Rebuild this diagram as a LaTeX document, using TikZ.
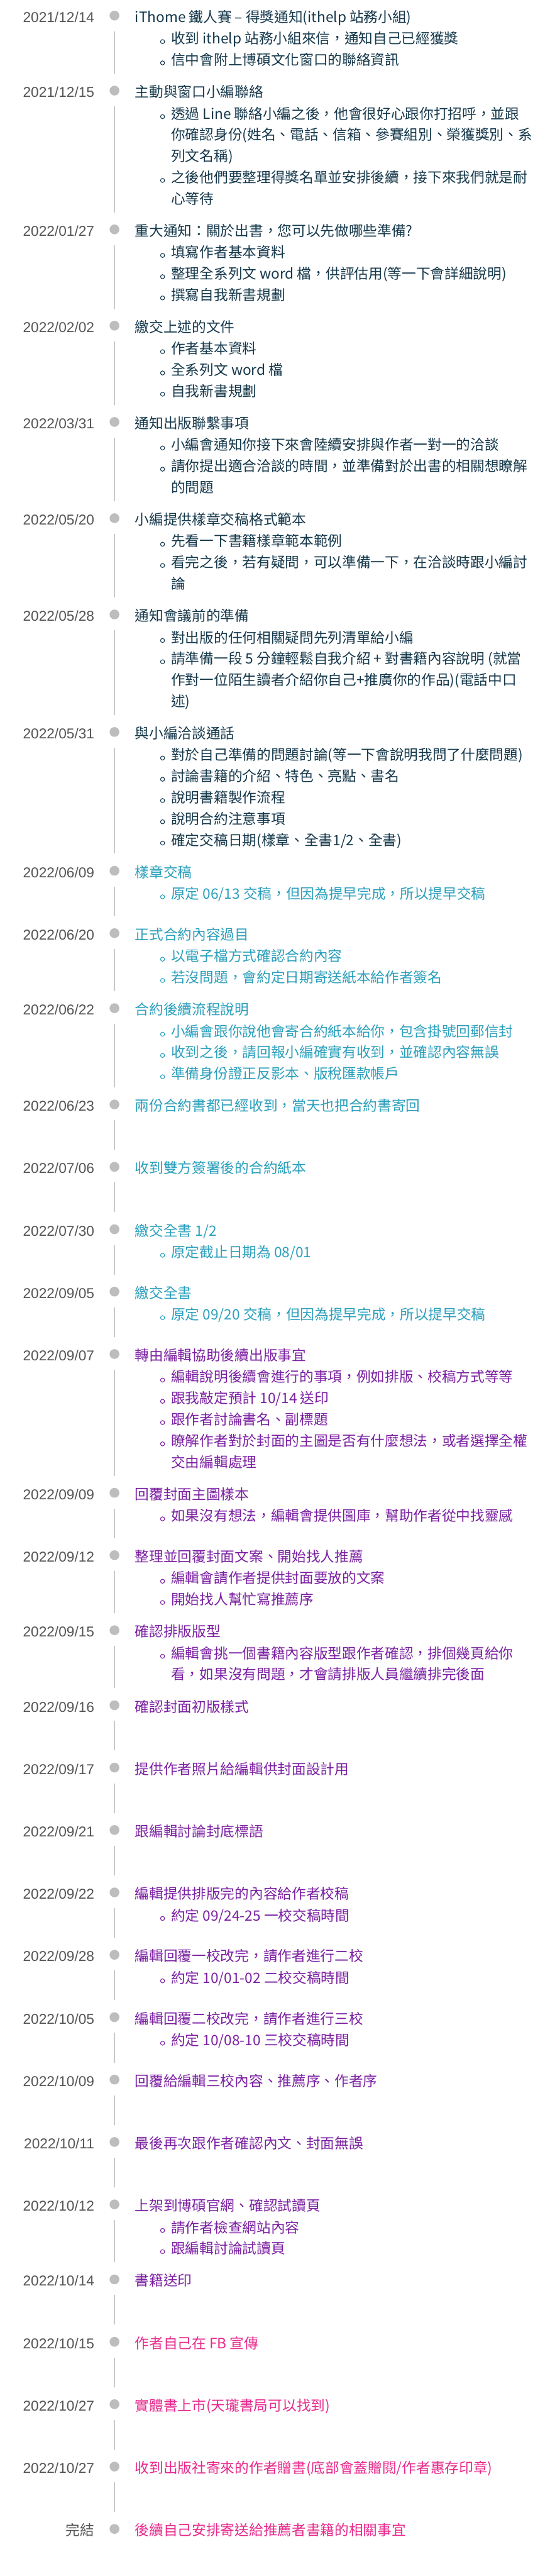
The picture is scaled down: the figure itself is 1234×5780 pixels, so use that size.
\documentclass[tikz,border=0pt]{standalone}
\usepackage{fontspec}
\setmainfont{Noto Sans CJK TC}
\newfontfamily\numfont{Liberation Sans}
\usepackage{xcolor}
\usepackage{tikz}

\definecolor{dategray}{HTML}{555555}
\definecolor{dotgray}{HTML}{BDBDBD}
\definecolor{railgray}{HTML}{C8C8C8}
\definecolor{navyink}{HTML}{15384B}
\definecolor{tealink}{HTML}{2A9FBC}
\definecolor{purpleink}{HTML}{7B1FA2}
\definecolor{pinkink}{HTML}{E8288C}

\begin{document}
\begin{tikzpicture}[
  x=0.75pt, y=-0.75pt,
  datelabel/.style={
    anchor=base east,
    inner sep=0pt,
    text=dategray,
    font=\numfont\fontsize{24}{30}\selectfont
  },
  dotmark/.style={
    circle,
    fill=dotgray,
    inner sep=0pt,
    minimum size=16.5pt
  },
  headline/.style={
    anchor=base west,
    inner sep=0pt,
    font=\fontsize{24}{30}\selectfont
  },
  bulletmark/.style={
    circle,
    draw,
    line width=1.1pt,
    inner sep=0pt,
    outer sep=0pt,
    minimum size=6.8pt,
    xshift=-10.9pt
  },
  item/.style={
    anchor=base west,
    inner sep=0pt,
    font=\fontsize{24}{30}\selectfont,
    text height=0.84em,
    text depth=0.08em,
    label={[bulletmark]left:{}}
  },
  itemcont/.style={
    anchor=base west,
    inner sep=0pt,
    font=\fontsize{24}{30}\selectfont
  },
  rail/.style={
    draw=railgray,
    line width=2.2pt
  }
]

\useasboundingbox[fill=white] (0,0) rectangle (1234,5780);

\begin{scope}[color=navyink]
% 2021/12/14
\node[datelabel] (d1) at (212,50) {2021/12/14};
\node[dotmark] (p1) at (257,35) {};
\node[headline] (t1) at (303,50)
  {iThome 鐵人賽 – 得獎通知(ithelp 站務小組)};
\node[item] (b1a) at (384,98.5)
  {收到 ithelp 站務小組來信，通知自己已經獲獎};
\node[item] (b1b) at (384,146.2)
  {信中會附上博碩文化窗口的聯絡資訊};

% 2021/12/15
\node[datelabel] (d2) at (212,218.3) {2021/12/15};
\node[dotmark] (p2) at (257,203.3) {};
\node[headline] (t2) at (303,218.3)
  {主動與窗口小編聯絡};
\node[item] (b2a) at (384,266.8)
  {透過 Line 聯絡小編之後，他會很好心跟你打招呼，並跟};
\node[itemcont] (b2b) at (384,314.5)
  {你確認身份(姓名、電話、信箱、參賽組別、榮獲獎別、系};
\node[itemcont] (b2c) at (384,362.2)
  {列文名稱)};
\node[item] (b2d) at (384,409.9)
  {之後他們要整理得獎名單並安排後續，接下來我們就是耐};
\node[itemcont] (b2e) at (384,457.6)
  {心等待};

% 2022/01/27
\node[datelabel] (d3) at (212,529.7) {2022/01/27};
\node[dotmark] (p3) at (257,514.7) {};
\node[headline] (t3) at (303,529.7)
  {重大通知：關於出書，您可以先做哪些準備?};
\node[item] (b3a) at (384,578.2)
  {填寫作者基本資料};
\node[item] (b3b) at (384,625.9)
  {整理全系列文 word 檔，供評估用(等一下會詳細說明)};
\node[item] (b3c) at (384,673.6)
  {撰寫自我新書規劃};

% 2022/02/02
\node[datelabel] (d4) at (212,745.7) {2022/02/02};
\node[dotmark] (p4) at (257,730.7) {};
\node[headline] (t4) at (303,745.7)
  {繳交上述的文件};
\node[item] (b4a) at (384,794.2)
  {作者基本資料};
\node[item] (b4b) at (384,841.9)
  {全系列文 word 檔};
\node[item] (b4c) at (384,889.6)
  {自我新書規劃};

% 2022/03/31
\node[datelabel] (d5) at (212,961.7) {2022/03/31};
\node[dotmark] (p5) at (257,946.7) {};
\node[headline] (t5) at (303,961.7)
  {通知出版聯繫事項};
\node[item] (b5a) at (384,1010.2)
  {小編會通知你接下來會陸續安排與作者一對一的洽談};
\node[item] (b5b) at (384,1057.9)
  {請你提出適合洽談的時間，並準備對於出書的相關想瞭解};
\node[itemcont] (b5c) at (384,1105.6)
  {的問題};

% 2022/05/20
\node[datelabel] (d6) at (212,1177.7) {2022/05/20};
\node[dotmark] (p6) at (257,1162.7) {};
\node[headline] (t6) at (303,1177.7)
  {小編提供樣章交稿格式範本};
\node[item] (b6a) at (384,1226.2)
  {先看一下書籍樣章範本範例};
\node[item] (b6b) at (384,1273.9)
  {看完之後，若有疑問，可以準備一下，在洽談時跟小編討};
\node[itemcont] (b6c) at (384,1321.6)
  {論};

% 2022/05/28
\node[datelabel] (d7) at (212,1393.7) {2022/05/28};
\node[dotmark] (p7) at (257,1378.7) {};
\node[headline] (t7) at (303,1393.7)
  {通知會議前的準備};
\node[item] (b7a) at (384,1442.2)
  {對出版的任何相關疑問先列清單給小編};
\node[item] (b7b) at (384,1489.9)
  {請準備一段 5 分鐘輕鬆自我介紹 + 對書籍內容說明 (就當};
\node[itemcont] (b7c) at (384,1537.6)
  {作對一位陌生讀者介紹你自己+推廣你的作品)(電話中口};
\node[itemcont] (b7d) at (384,1585.3)
  {述)};

% 2022/05/31
\node[datelabel] (d8) at (212,1657.4) {2022/05/31};
\node[dotmark] (p8) at (257,1642.4) {};
\node[headline] (t8) at (303,1657.4)
  {與小編洽談通話};
\node[item] (b8a) at (384,1705.9)
  {對於自己準備的問題討論(等一下會說明我問了什麼問題)};
\node[item] (b8b) at (384,1753.6)
  {討論書籍的介紹、特色、亮點、書名};
\node[item] (b8c) at (384,1801.3)
  {說明書籍製作流程};
\node[item] (b8d) at (384,1849.0)
  {說明合約注意事項};
\node[item] (b8e) at (384,1896.7)
  {確定交稿日期(樣章、全書1/2、全書)};
\end{scope}

\begin{scope}[color=tealink]
% 2022/06/09
\node[datelabel] (d9) at (212,1968.8) {2022/06/09};
\node[dotmark] (p9) at (257,1953.8) {};
\node[headline] (t9) at (303,1968.8)
  {樣章交稿};
\node[item] (b9a) at (384,2017.3)
  {原定 06/13 交稿，但因為提早完成，所以提早交稿};

% 2022/06/20
\node[datelabel] (d10) at (212,2108.8) {2022/06/20};
\node[dotmark] (p10) at (257,2093.8) {};
\node[headline] (t10) at (303,2108.8)
  {正式合約內容過目};
\node[item] (b10a) at (384,2157.3)
  {以電子檔方式確認合約內容};
\node[item] (b10b) at (384,2205.0)
  {若沒問題，會約定日期寄送紙本給作者簽名};

% 2022/06/22
\node[datelabel] (d11) at (212,2277.1) {2022/06/22};
\node[dotmark] (p11) at (257,2262.1) {};
\node[headline] (t11) at (303,2277.1)
  {合約後續流程說明};
\node[item] (b11a) at (384,2325.6)
  {小編會跟你說他會寄合約紙本給你，包含掛號回郵信封};
\node[item] (b11b) at (384,2373.3)
  {收到之後，請回報小編確實有收到，並確認內容無誤};
\node[item] (b11c) at (384,2421.0)
  {準備身份證正反影本、版稅匯款帳戶};

% 2022/06/23
\node[datelabel] (d12) at (212,2493.1) {2022/06/23};
\node[dotmark] (p12) at (257,2478.1) {};
\node[headline] (t12) at (303,2493.1)
  {兩份合約書都已經收到，當天也把合約書寄回};

% 2022/07/06
\node[datelabel] (d13) at (212,2633.1) {2022/07/06};
\node[dotmark] (p13) at (257,2618.1) {};
\node[headline] (t13) at (303,2633.1)
  {收到雙方簽署後的合約紙本};

% 2022/07/30
\node[datelabel] (d14) at (212,2773.1) {2022/07/30};
\node[dotmark] (p14) at (257,2758.1) {};
\node[headline] (t14) at (303,2773.1)
  {繳交全書 1/2};
\node[item] (b14a) at (384,2821.6)
  {原定截止日期為 08/01};

% 2022/09/05
\node[datelabel] (d15) at (212,2913.1) {2022/09/05};
\node[dotmark] (p15) at (257,2898.1) {};
\node[headline] (t15) at (303,2913.1)
  {繳交全書};
\node[item] (b15a) at (384,2961.6)
  {原定 09/20 交稿，但因為提早完成，所以提早交稿};
\end{scope}

\begin{scope}[color=purpleink]
% 2022/09/07
\node[datelabel] (d16) at (212,3053.1) {2022/09/07};
\node[dotmark] (p16) at (257,3038.1) {};
\node[headline] (t16) at (303,3053.1)
  {轉由編輯協助後續出版事宜};
\node[item] (b16a) at (384,3101.6)
  {編輯說明後續會進行的事項，例如排版、校稿方式等等};
\node[item] (b16b) at (384,3149.3)
  {跟我敲定預計 10/14 送印};
\node[item] (b16c) at (384,3197.0)
  {跟作者討論書名、副標題};
\node[item] (b16d) at (384,3244.7)
  {瞭解作者對於封面的主圖是否有什麼想法，或者選擇全權};
\node[itemcont] (b16e) at (384,3292.4)
  {交由編輯處理};

% 2022/09/09
\node[datelabel] (d17) at (212,3364.5) {2022/09/09};
\node[dotmark] (p17) at (257,3349.5) {};
\node[headline] (t17) at (303,3364.5)
  {回覆封面主圖樣本};
\node[item] (b17a) at (384,3413.0)
  {如果沒有想法，編輯會提供圖庫，幫助作者從中找靈感};

% 2022/09/12
\node[datelabel] (d18) at (212,3504.5) {2022/09/12};
\node[dotmark] (p18) at (257,3489.5) {};
\node[headline] (t18) at (303,3504.5)
  {整理並回覆封面文案、開始找人推薦};
\node[item] (b18a) at (384,3553.0)
  {編輯會請作者提供封面要放的文案};
\node[item] (b18b) at (384,3600.7)
  {開始找人幫忙寫推薦序};

% 2022/09/15
\node[datelabel] (d19) at (212,3672.8) {2022/09/15};
\node[dotmark] (p19) at (257,3657.8) {};
\node[headline] (t19) at (303,3672.8)
  {確認排版版型};
\node[item] (b19a) at (384,3721.3)
  {編輯會挑一個書籍內容版型跟作者確認，排個幾頁給你};
\node[itemcont] (b19b) at (384,3769.0)
  {看，如果沒有問題，才會請排版人員繼續排完後面};

% 2022/09/16
\node[datelabel] (d20) at (212,3841.1) {2022/09/16};
\node[dotmark] (p20) at (257,3826.1) {};
\node[headline] (t20) at (303,3841.1)
  {確認封面初版樣式};

% 2022/09/17
\node[datelabel] (d21) at (212,3981.1) {2022/09/17};
\node[dotmark] (p21) at (257,3966.1) {};
\node[headline] (t21) at (303,3981.1)
  {提供作者照片給編輯供封面設計用};

% 2022/09/21
\node[datelabel] (d22) at (212,4121.1) {2022/09/21};
\node[dotmark] (p22) at (257,4106.1) {};
\node[headline] (t22) at (303,4121.1)
  {跟編輯討論封底標語};

% 2022/09/22
\node[datelabel] (d23) at (212,4261.1) {2022/09/22};
\node[dotmark] (p23) at (257,4246.1) {};
\node[headline] (t23) at (303,4261.1)
  {編輯提供排版完的內容給作者校稿};
\node[item] (b23a) at (384,4309.6)
  {約定 09/24-25 一校交稿時間};

% 2022/09/28
\node[datelabel] (d24) at (212,4401.1) {2022/09/28};
\node[dotmark] (p24) at (257,4386.1) {};
\node[headline] (t24) at (303,4401.1)
  {編輯回覆一校改完，請作者進行二校};
\node[item] (b24a) at (384,4449.6)
  {約定 10/01-02 二校交稿時間};

% 2022/10/05
\node[datelabel] (d25) at (212,4541.1) {2022/10/05};
\node[dotmark] (p25) at (257,4526.1) {};
\node[headline] (t25) at (303,4541.1)
  {編輯回覆二校改完，請作者進行三校};
\node[item] (b25a) at (384,4589.6)
  {約定 10/08-10 三校交稿時間};

% 2022/10/09
\node[datelabel] (d26) at (212,4681.1) {2022/10/09};
\node[dotmark] (p26) at (257,4666.1) {};
\node[headline] (t26) at (303,4681.1)
  {回覆給編輯三校內容、推薦序、作者序};

% 2022/10/11
\node[datelabel] (d27) at (212,4821.1) {2022/10/11};
\node[dotmark] (p27) at (257,4806.1) {};
\node[headline] (t27) at (303,4821.1)
  {最後再次跟作者確認內文、封面無誤};

% 2022/10/12
\node[datelabel] (d28) at (212,4961.1) {2022/10/12};
\node[dotmark] (p28) at (257,4946.1) {};
\node[headline] (t28) at (303,4961.1)
  {上架到博碩官網、確認試讀頁};
\node[item] (b28a) at (384,5009.6)
  {請作者檢查網站內容};
\node[item] (b28b) at (384,5057.3)
  {跟編輯討論試讀頁};

% 2022/10/14
\node[datelabel] (d29) at (212,5129.4) {2022/10/14};
\node[dotmark] (p29) at (257,5114.4) {};
\node[headline] (t29) at (303,5129.4)
  {書籍送印};
\end{scope}

\begin{scope}[color=pinkink]
% 2022/10/15
\node[datelabel] (d30) at (212,5269.4) {2022/10/15};
\node[dotmark] (p30) at (257,5254.4) {};
\node[headline] (t30) at (303,5269.4)
  {作者自己在 FB 宣傳};

% 2022/10/27
\node[datelabel] (d31) at (212,5409.4) {2022/10/27};
\node[dotmark] (p31) at (257,5394.4) {};
\node[headline] (t31) at (303,5409.4)
  {實體書上市(天瓏書局可以找到)};

% 2022/10/27
\node[datelabel] (d32) at (212,5549.4) {2022/10/27};
\node[dotmark] (p32) at (257,5534.4) {};
\node[headline] (t32) at (303,5549.4)
  {收到出版社寄來的作者贈書(底部會蓋贈閱/作者惠存印章)};

% 完結
\node[datelabel, font=\fontsize{24}{30}\selectfont] (d33) at (212,5689.4) {完結};
\node[dotmark] (p33) at (257,5674.4) {};
\node[headline] (t33) at (303,5689.4)
  {後續自己安排寄送給推薦者書籍的相關事宜};
\end{scope}

% 時間軸
\draw[rail] ([yshift=-18pt]p1.south) -- ([yshift=20.25pt]p2.north);
\draw[rail] ([yshift=-18pt]p2.south) -- ([yshift=20.25pt]p3.north);
\draw[rail] ([yshift=-18pt]p3.south) -- ([yshift=20.25pt]p4.north);
\draw[rail] ([yshift=-18pt]p4.south) -- ([yshift=20.25pt]p5.north);
\draw[rail] ([yshift=-18pt]p5.south) -- ([yshift=20.25pt]p6.north);
\draw[rail] ([yshift=-18pt]p6.south) -- ([yshift=20.25pt]p7.north);
\draw[rail] ([yshift=-18pt]p7.south) -- ([yshift=20.25pt]p8.north);
\draw[rail] ([yshift=-18pt]p8.south) -- ([yshift=20.25pt]p9.north);
\draw[rail] ([yshift=-18pt]p9.south) -- ([yshift=20.25pt]p10.north);
\draw[rail] ([yshift=-18pt]p10.south) -- ([yshift=20.25pt]p11.north);
\draw[rail] ([yshift=-18pt]p11.south) -- ([yshift=20.25pt]p12.north);
\draw[rail] ([yshift=-18pt]p12.south) -- ([yshift=20.25pt]p13.north);
\draw[rail] ([yshift=-18pt]p13.south) -- ([yshift=20.25pt]p14.north);
\draw[rail] ([yshift=-18pt]p14.south) -- ([yshift=20.25pt]p15.north);
\draw[rail] ([yshift=-18pt]p15.south) -- ([yshift=20.25pt]p16.north);
\draw[rail] ([yshift=-18pt]p16.south) -- ([yshift=20.25pt]p17.north);
\draw[rail] ([yshift=-18pt]p17.south) -- ([yshift=20.25pt]p18.north);
\draw[rail] ([yshift=-18pt]p18.south) -- ([yshift=20.25pt]p19.north);
\draw[rail] ([yshift=-18pt]p19.south) -- ([yshift=20.25pt]p20.north);
\draw[rail] ([yshift=-18pt]p20.south) -- ([yshift=20.25pt]p21.north);
\draw[rail] ([yshift=-18pt]p21.south) -- ([yshift=20.25pt]p22.north);
\draw[rail] ([yshift=-18pt]p22.south) -- ([yshift=20.25pt]p23.north);
\draw[rail] ([yshift=-18pt]p23.south) -- ([yshift=20.25pt]p24.north);
\draw[rail] ([yshift=-18pt]p24.south) -- ([yshift=20.25pt]p25.north);
\draw[rail] ([yshift=-18pt]p25.south) -- ([yshift=20.25pt]p26.north);
\draw[rail] ([yshift=-18pt]p26.south) -- ([yshift=20.25pt]p27.north);
\draw[rail] ([yshift=-18pt]p27.south) -- ([yshift=20.25pt]p28.north);
\draw[rail] ([yshift=-18pt]p28.south) -- ([yshift=20.25pt]p29.north);
\draw[rail] ([yshift=-18pt]p29.south) -- ([yshift=20.25pt]p30.north);
\draw[rail] ([yshift=-18pt]p30.south) -- ([yshift=20.25pt]p31.north);
\draw[rail] ([yshift=-18pt]p31.south) -- ([yshift=20.25pt]p32.north);
\draw[rail] ([yshift=-18pt]p32.south) -- ([yshift=20.25pt]p33.north);

\end{tikzpicture}
\end{document}
